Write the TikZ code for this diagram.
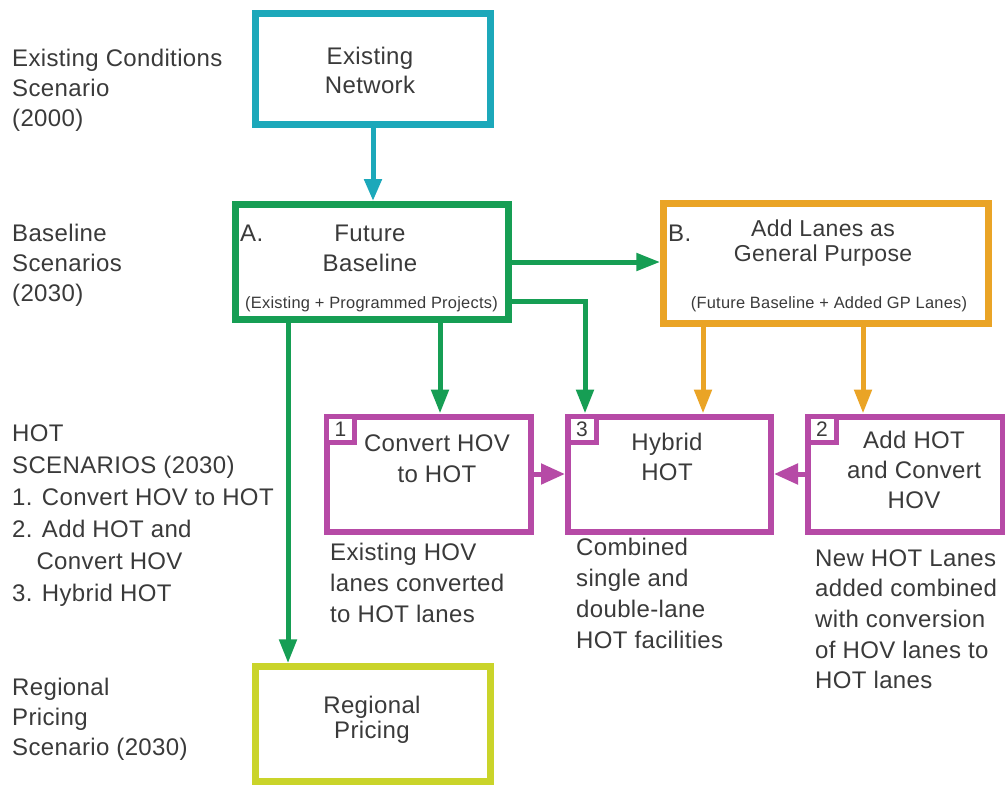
\documentclass[tikz,border=0pt]{standalone}
\usepackage{fontspec}
\setmainfont[LetterSpace=1.5]{Liberation Sans}
\usetikzlibrary{arrows.meta}
\definecolor{cyanb}{RGB}{28,168,186}
\definecolor{greenb}{RGB}{22,158,84}
\definecolor{orangeb}{RGB}{234,164,38}
\definecolor{purpleb}{RGB}{182,74,166}
\definecolor{limeb}{RGB}{202,212,42}
\definecolor{txt}{RGB}{58,58,58}
\tikzset{
  box/.style={draw, fill=white, line width=7pt, inner sep=0pt},
  pbox/.style={draw=purpleb, fill=white, line width=6pt, inner sep=0pt, minimum width=204pt, minimum height=115pt},
  tab/.style={draw=purpleb, fill=white, line width=5pt, inner sep=0pt, outer sep=0pt, anchor=north west,
    minimum width=28pt, minimum height=26pt, font=\fontsize{21}{21}\selectfont, text=txt},
  lbl/.style={anchor=north west, align=left, inner sep=0pt, text=txt, font=\fontsize{24}{30}\selectfont},
  ctr/.style={anchor=north, align=center, inner sep=0pt, text=txt},
  small/.style={inner sep=0pt, text=txt, font=\fontsize{16.4}{18}\selectfont},
  conn/.style={line width=5pt, -{Triangle[length=24pt,width=17pt]}},
  pconn/.style={line width=5pt, draw=purpleb, -{Triangle[length=24pt,width=20pt]}}
}
\begin{document}
\begin{tikzpicture}[x=1pt,y=-1pt]
\useasboundingbox (0,0) rectangle (1005,785);
\clip (0,0) rectangle (1005,785);
\fill[white] (0,0) rectangle (1005,785);

% boxes
\node[box, draw=cyanb, minimum width=235pt, minimum height=111pt] (EN) at (373,69) {};
\node[box, draw=greenb, minimum width=273.5pt, minimum height=115pt] (A) at (372,262) {};
\node[box, draw=orangeb, minimum width=324.5pt, minimum height=120pt] (B) at (826,263.5) {};
\node[pbox] (C1) at (428.5,474) {};
\node[pbox, minimum width=203pt] (H3) at (669.5,474) {};
\node[pbox, minimum width=195pt] (C2) at (905.5,474) {};
\node[box, draw=limeb, minimum width=235pt, minimum height=114.5pt] (RP) at (372.5,724) {};

% tabs
\node[tab] (T1) at (326.5,416.5) {1};
\node[tab] (T3) at (568,416.5) {3};
\node[tab] (T2) at (808,416.5) {2};

% box texts
\node[ctr, font=\fontsize{24}{29}\selectfont] (ENt) at (370,64-20.3) {\strut Existing\\Network};
\node[ctr, font=\fontsize{24}{30}\selectfont] (At) at (370,241-21) {\strut Future\\Baseline};
\node[lbl, font=\fontsize{24}{30}\selectfont] (Al) at (240,241-21) {\strut A.};
\node[small, anchor=base] (As) at (371.5,308) {(Existing + Programmed Projects)};
\node[ctr, font=\fontsize{23}{24.5}\selectfont] (Bt) at (823,220) {Add Lanes as\\General Purpose};
\node[lbl, font=\fontsize{24}{30}\selectfont] (Bl) at (668,241-21) {\strut B.};
\node[small, anchor=base] (Bs) at (829,308) {(Future Baseline + Added GP Lanes)};
\node[ctr, font=\fontsize{24}{31}\selectfont] (C1t) at (437,451-21.7) {\strut Convert HOV\\to HOT};
\node[ctr, font=\fontsize{24}{30}\selectfont] (H3t) at (667,450-21) {\strut Hybrid\\HOT};
\node[ctr, font=\fontsize{24}{30}\selectfont] (C2t) at (914,448-21) {\strut Add HOT\\and Convert\\HOV};
\node[ctr, font=\fontsize{24}{25}\selectfont] (RPt) at (372,713-17.5) {\strut Regional\\Pricing};

% left labels
\node[lbl] (L1) at (12,66-21) {\strut Existing Conditions\\Scenario\\(2000)};
\node[lbl] (L2) at (12,241-21) {\strut Baseline\\Scenarios\\(2030)};
\node[lbl, font=\fontsize{24}{32}\selectfont] (L3) at (12,441-22.4) {\strut HOT\\SCENARIOS (2030)\\1. Convert HOV to HOT\\2. Add HOT and\\\phantom{2.\,}Convert HOV\\3. Hybrid HOT};
\node[lbl] (L4) at (12,695-21) {\strut Regional\\Pricing\\Scenario (2030)};

% descriptions
\node[lbl, font=\fontsize{24}{31}\selectfont] (D1) at (330,560-21.7) {\strut Existing HOV\\lanes converted\\to HOT lanes};
\node[lbl, font=\fontsize{24}{31}\selectfont] (D3) at (576,555-21.7) {\strut Combined\\single and\\double-lane\\HOT facilities};
\node[lbl, font=\fontsize{24}{30.7}\selectfont] (D2) at (815,566-21.5) {\strut New HOT Lanes\\added combined\\with conversion\\of HOV lanes to\\HOT lanes};

% connectors
\draw[conn, draw=cyanb, -{Triangle[length=22pt,width=17pt]}] (EN.south) -- (EN.south |- A.north);
\draw[conn, draw=greenb] (A.east) -- (A.east -| B.west);
\coordinate (a0) at ([yshift=-39pt]A.east);
\coordinate (h0) at ([xshift=20pt]H3.north west);
\draw[conn, draw=greenb] (a0) -| (h0);
\coordinate (a1) at ([xshift=68pt]A.south);
\draw[conn, draw=greenb] (a1) -- (a1 |- C1.north);
\coordinate (a2) at ([xshift=-84pt]A.south);
\draw[conn, draw=greenb] (a2) -- (a2 |- RP.north);
\coordinate (b1) at ([xshift=-123pt]B.south);
\draw[conn, draw=orangeb] (b1) -- (b1 |- H3.north);
\coordinate (b2) at ([xshift=37pt]B.south);
\draw[conn, draw=orangeb] (b2) -- (b2 |- C2.north);
\draw[pconn] (C1.east) -- (H3.west);
\draw[pconn] (C2.west) -- (H3.east);
\end{tikzpicture}
\end{document}
